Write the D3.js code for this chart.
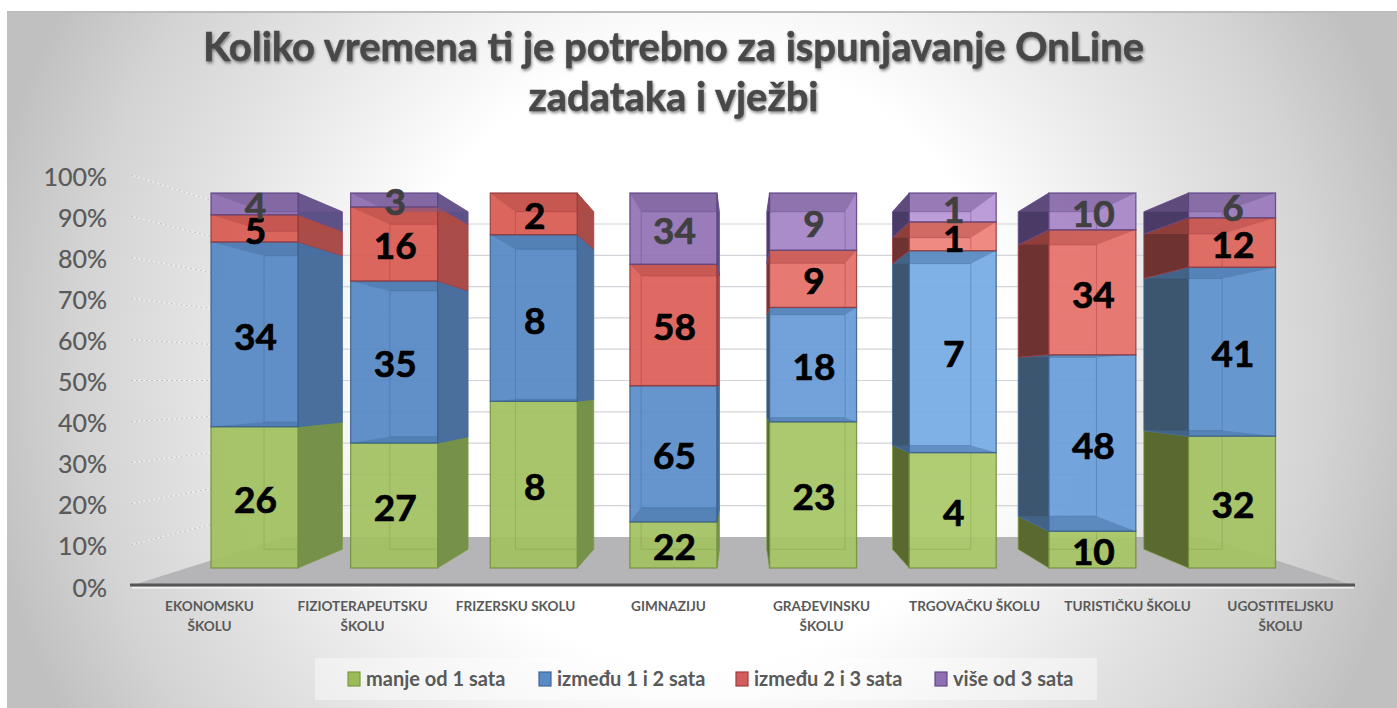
<!DOCTYPE html>
<html><head><meta charset="utf-8">
<style>
html,body{margin:0;padding:0;background:#fff;overflow:hidden}
svg{display:block;font-family:Lato,"Open Sans",sans-serif}
</style>
<script src="https://cdn.jsdelivr.net/npm/d3@7"></script>
</head><body>
<svg id="c" width="1397" height="708"></svg>
<script>
const titleLines = ["Koliko vremena ti je potrebno za ispunjavanje OnLine", "zadataka i vježbi"];
const categories = ["EKONOMSKU\nŠKOLU","FIZIOTERAPEUTSKU\nŠKOLU","FRIZERSKU SKOLU","GIMNAZIJU","GRAĐEVINSKU\nŠKOLU","TRGOVAČKU ŠKOLU","TURISTIČKU ŠKOLU","UGOSTITELJSKU\nŠKOLU"];
const seriesNames = ["manje od 1 sata","između 1 i 2 sata","između 2 i 3 sata","više od 3 sata"];
const manje1 = [26,27,8,22,23,4,10,32];
const izmedju12 = [34,35,8,65,18,7,48,41];
const izmedju23 = [5,16,2,58,9,1,34,12];
const vise3 = [4,3,0,34,9,1,10,6];
const seriesValues = [manje1,izmedju12,izmedju23,vise3];

// styles
const frontCol = ["#a2c160","#5588c4","#d85a52","#8d6db0"];
const brightCol= ["#aecb6c","#80b6f0","#f48e86","#c6a2e4"];
const rightCol = ["#76914a","#4a6f9c","#a94c4a","#5c5288"];
const leftCol  = ["#59692f","#3d566f","#6e3331","#4a3a66"];
const edgeCol  = ["#7c9a42","#3f6898","#a03c40","#62498c"];
const legendFill=["#9bbb59","#5b8bc6","#cf5e5c","#8e6fb2"];
const labelCol = ["#000","#000","#000","#404040"];
const barLight = [0,0,0,.1,.42,.75,.45,.2];

const svg = d3.select("#c");
const defs = svg.append("defs");
const bg = defs.append("radialGradient").attr("id","bg").attr("gradientUnits","userSpaceOnUse")
  .attr("cx",700).attr("cy",360).attr("r",730);
[[0,"#fff"],[.42,"#fff"],[.7,"#e2e2e2"],[.85,"#d4d4d4"],[1,"#c0c0c0"]].forEach(s=>bg.append("stop").attr("offset",s[0]).attr("stop-color",s[1]));
svg.append("rect").attr("x",7).attr("y",12).attr("width",1390).attr("height",696).attr("fill","url(#bg)");
svg.append("rect").attr("x",7).attr("y",11).attr("width",1390).attr("height",2).attr("fill","#bcbcbc");

// perspective
const vp = {x:742,y:380.5};
const depth = .9;
const proj = (x,y,k)=>[vp.x+(x-vp.x)*k, vp.y+(y-vp.y)*k];
const poly = d3.line();

// scales
const yWall = d3.scaleLinear().domain([0,1]).range([586,175]);
const yBack = d3.scaleLinear().domain([0,1]).range([537,224]);
const yFront = d3.scaleLinear().domain([0,1]).range([568,193]);
const xBar = d3.scaleBand().domain(categories).range([211,1275.5]).paddingInner(.377).paddingOuter(0);
const xAxisBand = d3.scaleBand().domain(categories).range([133,1357]);

// back wall grid
const ticks = d3.range(0,11).map(d=>d/10);
svg.append("g").selectAll("line").data(ticks.slice(1)).join("line")
  .attr("x1",285).attr("x2",1205).attr("y1",d=>yBack(d)).attr("y2",d=>yBack(d))
  .attr("stroke","#d3d3da").attr("stroke-width",1.2);
// left wall
const wall = svg.append("g");
wall.selectAll("line.a").data(ticks.slice(1)).join("line").attr("class","a")
  .attr("x1",131).attr("x2",285).attr("y1",d=>yWall(d)).attr("y2",d=>yBack(d))
  .attr("stroke","#fff").attr("stroke-opacity",.45).attr("stroke-width",1.4);
wall.selectAll("line.b").data(ticks.slice(1)).join("line").attr("class","b")
  .attr("x1",131).attr("x2",285).attr("y1",d=>yWall(d)).attr("y2",d=>yBack(d))
  .attr("stroke","#bdbdbd").attr("stroke-width",1).attr("stroke-dasharray","2 3");
// floor
svg.append("path").attr("d",poly([[130,586],[285,537],[1205,537],[1355,586]])+"Z").attr("fill","#b5b5b8");
svg.append("line").attr("x1",130).attr("x2",1355).attr("y1",585).attr("y2",585).attr("stroke","#565656").attr("stroke-width",3);
svg.append("rect").attr("x",132).attr("y",587).attr("width",1222).attr("height",1.5).attr("fill","#fff").attr("fill-opacity",.7);

// axis labels
const yAxis = d3.axisLeft(yWall).tickValues(ticks).tickFormat(d3.format(".0%")).tickSize(0).tickPadding(0);
const ya = svg.append("g").attr("transform","translate(107,2)").call(yAxis);
ya.select(".domain").remove();
ya.selectAll("text").attr("font-size",25).attr("fill","#595959").attr("stroke","#595959").attr("stroke-width",.2).attr("font-family","Lato,sans-serif");

const xAxis = d3.axisBottom(xAxisBand).tickSize(0).tickFormat("");
const xa = svg.append("g").attr("transform","translate(0,586)").call(xAxis);
xa.select(".domain").remove();
xa.selectAll(".tick text").each(function(d){
  const t = d3.select(this).attr("y",25).attr("dy",null).attr("font-size",13.6).attr("font-weight",700)
    .attr("fill","#595959").attr("font-family","Lato,sans-serif");
  d.split("\n").forEach((s,i)=>t.append("tspan").attr("x",0).attr("y",25+i*20).text(s));
});

// stacked bars
const table = categories.map((c,i)=>{const o={cat:c};seriesNames.forEach((s,j)=>o[s]=seriesValues[j][i]);return o;});
const stacked = d3.stack().keys(seriesNames).offset(d3.stackOffsetExpand)(table);
const bars = svg.append("g");
const labels = [];
categories.forEach((cat,i)=>{
  const x0 = xBar(cat), x1 = x0+xBar.bandwidth();
  const g = bars.append("g");
  const showRight = x1 < vp.x;
  const sx = showRight ? x1 : x0;
  stacked.forEach((layer,s)=>{
    const d = layer[i];
    if (seriesValues[s][i]===0) return;
    const yT = yFront(d[1]), yB = yFront(d[0]);
    const f = d3.interpolateRgb(frontCol[s],brightCol[s])(barLight[i]), edge = edgeCol[s];
    // side face
    g.append("path").attr("d",poly([[sx,yT],proj(sx,yT,depth),proj(sx,yB,depth),[sx,yB]])+"Z")
      .attr("fill",showRight?rightCol[s]:leftCol[s]).attr("stroke",edge).attr("stroke-width",.8);
    // front face
    g.append("rect").attr("x",x0).attr("y",yT).attr("width",x1-x0).attr("height",yB-yT)
      .attr("fill",f).attr("fill-opacity",.93);
    // inner faces seen through the front
    const band = d3.color(frontCol[s]).darker(.55);
    const faces = [];
    if (yT < vp.y) faces.push(yT);
    if (yB > vp.y && s>0) faces.push(yB);
    faces.forEach(y=>{
      g.append("path").attr("d",poly([[x0,y],[x1,y],proj(x1,y,depth),proj(x0,y,depth)])+"Z")
        .attr("fill",band).attr("fill-opacity",.5);
    });
    // back rectangle
    const a = proj(x0,yT,depth), b = proj(x1,yB,depth);
    const clipId = `cl${i}_${s}`;
    defs.append("clipPath").attr("id",clipId).append("rect").attr("x",x0).attr("y",yT).attr("width",x1-x0).attr("height",yB-yT);
    const inner = g.append("g").attr("clip-path",`url(#${clipId})`).attr("stroke",edge).attr("stroke-opacity",.42).attr("stroke-width",1).attr("fill","none");
    inner.append("rect").attr("x",a[0]).attr("y",a[1]).attr("width",b[0]-a[0]).attr("height",b[1]-a[1]);
    // front outline
    g.append("rect").attr("x",x0).attr("y",yT).attr("width",x1-x0).attr("height",yB-yT)
      .attr("fill","none").attr("stroke",d3.color(edge).darker(.25)).attr("stroke-width",1.3).attr("stroke-opacity",.85);
    labels.push({x:(x0+x1)/2+1,y:(yT+yB)/2,v:seriesValues[s][i],c:labelCol[s]});
  });
});
svg.append("g").selectAll("text").data(labels).join("text")
  .attr("x",d=>d.x).attr("y",d=>d.y+1).attr("text-anchor","middle").attr("dominant-baseline","central")
  .attr("font-size",37).attr("font-weight",700).attr("fill",d=>d.c).attr("stroke",d=>d.c).attr("stroke-width",.7).text(d=>d.v);

// title
svg.append("g").selectAll("text").data(titleLines).join("text")
  .attr("x",673.5).attr("y",(d,i)=>61+i*50).attr("text-anchor","middle")
  .attr("font-size",39.9).attr("font-weight",700).attr("fill","#484848").attr("stroke","#484848").attr("stroke-width",.5)
  .style("filter","drop-shadow(1px 2px 1.5px rgba(0,0,0,.45))").text(d=>d);

// legend
svg.append("rect").attr("x",315).attr("y",658).attr("width",782).attr("height",42).attr("fill","#fff").attr("fill-opacity",.42);
const legendScale = d3.scaleOrdinal().domain(seriesNames).range([348,539,736,935]);
const lg = svg.append("g").selectAll("g").data(seriesNames).join("g").attr("transform",d=>`translate(${legendScale(d)},0)`);
lg.append("rect").attr("y",672).attr("width",12).attr("height",14)
  .attr("fill",(d,i)=>legendFill[i]).attr("stroke",(d,i)=>edgeCol[i]).attr("stroke-width",1.2);
lg.append("text").attr("x",18).attr("y",686).attr("font-size",20).attr("font-weight",700).attr("fill","#595959").text(d=>d);
</script>
</body></html>
